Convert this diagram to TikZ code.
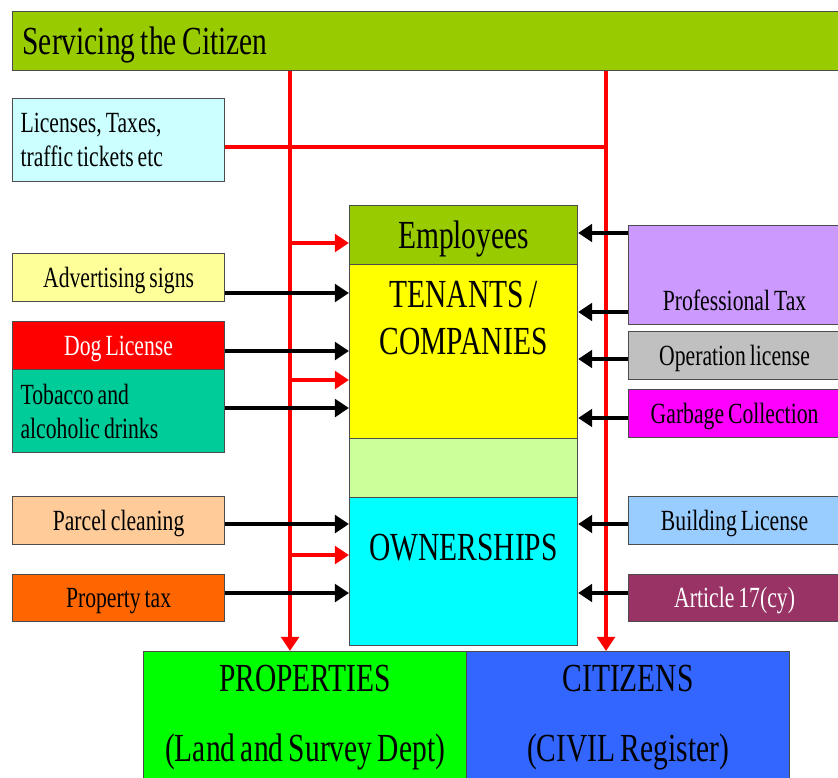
\documentclass[tikz,border=0pt]{standalone}
\usepackage{fontspec}
\setmainfont[FakeStretch=0.74, WordSpace=0.74]{Liberation Serif}
\usetikzlibrary{arrows.meta}

\definecolor{headgreen}{HTML}{99CC00}
\definecolor{licblue}{HTML}{CCFFFF}
\definecolor{advyellow}{HTML}{FFFF99}
\definecolor{dogred}{HTML}{FF0000}
\definecolor{tobgreen}{HTML}{00CC99}
\definecolor{parcelorange}{HTML}{FFCC99}
\definecolor{taxorange}{HTML}{FF6600}
\definecolor{proflilac}{HTML}{CC99FF}
\definecolor{opgrey}{HTML}{C0C0C0}
\definecolor{garbmagenta}{HTML}{FF00FF}
\definecolor{buildblue}{HTML}{99CCFF}
\definecolor{artplum}{HTML}{993366}
\definecolor{tenyellow}{HTML}{FFFF00}
\definecolor{palegreen}{HTML}{CCFF99}
\definecolor{owncyan}{HTML}{00FFFF}
\definecolor{propgreen}{HTML}{00FF00}
\definecolor{citzblue}{HTML}{3366FF}

\newcommand{\boxfont}{\fontsize{25pt}{29pt}\selectfont}
\newcommand{\headfont}{\fontsize{34pt}{40pt}\selectfont}

\tikzset{
	box/.style = {draw = black!70, line width = 1pt, inner sep = 0pt, anchor = north west},
	side/.style = {box, font = \boxfont, minimum width = 6.36cm, text height = 16.5pt, text depth = 0pt},
	sidetwo/.style = {box, font = \boxfont, minimum width = 6.36cm, text width = 5.88cm, align = flush left},
	core/.style = {box, font = \headfont, minimum width = 6.84cm},
	register/.style = {box, font = \headfont, minimum width = 9.69cm, minimum height = 3.96cm, align = center},
	feed/.style = {line width = 2.9pt, -{Triangle[length = 12pt, width = 15pt]}},
	redfeed/.style = {feed, red},
	redline/.style = {line width = 2.9pt, red}
}

\begin{document}
\begin{tikzpicture}[x = 0.03cm, y = -0.03cm]
	\useasboundingbox (0, 0) rectangle (838, 777);
	
	\node[box, fill = headgreen, font = \headfont, minimum width = 25.08cm, minimum height = 1.77cm, text width = 24.48cm, align = flush left, text height = 22.5pt, text depth = 0pt] (title) at (12, 11) {Servicing the Citizen};
	
	\node[sidetwo, fill = licblue, minimum height = 2.49cm] (lic) at (12, 98) {Licenses, Taxes,\\traffic tickets etc};
	\node[side, fill = advyellow, minimum height = 1.44cm] (adv) at (12, 253) {Advertising signs};
	\node[side, fill = dogred, text = white, minimum height = 1.44cm] (dog) at (12, 321) {Dog License};
	\node[sidetwo, fill = tobgreen, minimum height = 2.49cm] (tob) at (12, 369) {Tobacco and\\alcoholic drinks};
	\node[side, fill = parcelorange, minimum height = 1.44cm] (par) at (12, 496) {Parcel cleaning};
	\node[side, fill = taxorange, minimum height = 1.41cm] (ptax) at (12, 574) {Property tax};
	
	\node[core, fill = headgreen, minimum height = 1.77cm, text height = 22.5pt, text depth = 0pt] (emp) at (349, 205) {Employees};
	\node[core, fill = tenyellow, minimum height = 5.22cm] (ten) at (349, 264) {};
	\node[font = \headfont, align = center, anchor = north, inner sep = 0pt, yshift = -14.5pt] (tenlbl) at (ten.north) {TENANTS /\\COMPANIES};
	\node[core, fill = palegreen, minimum height = 1.77cm] (gap) at (349, 438) {};
	\node[core, fill = owncyan, minimum height = 4.44cm, text height = 54pt, text depth = 72.5pt] (own) at (349, 497) {OWNERSHIPS};
	
	\node[side, fill = proflilac, minimum height = 2.97cm, text height = 72pt, text depth = 12pt] (prof) at (628, 225) {Professional Tax};
	\node[side, fill = opgrey, minimum height = 1.44cm] (oper) at (628, 331) {Operation license};
	\node[side, fill = garbmagenta, minimum height = 1.44cm] (garb) at (628, 389) {Garbage Collection};
	\node[side, fill = buildblue, minimum height = 1.44cm] (build) at (628, 496) {Building License};
	\node[side, fill = artplum, text = white, minimum height = 1.41cm] (art) at (628, 574) {Article 17(cy)};
	
	\node[register, fill = propgreen] (prop) at (143, 651) {PROPERTIES\\[0.6em](Land and Survey Dept)};
	\node[register, fill = citzblue] (citz) at (466, 651) {CITIZENS\\[0.6em](CIVIL Register)};
	
	\coordinate (redL) at (290, 0);
	\coordinate (redR) at (606, 0);
	
	\draw[redline] (lic.east |- 0,147) -- (redR |- 0,147);
	\draw[redfeed] (title.south -| redL) -- (prop.north -| redL);
	\draw[redfeed] (title.south -| redR) -- (citz.north -| redR);
	\foreach \dst/\yy in {emp/243, ten/380, own/555}
	\draw[redfeed] (redL |- 0,\yy) -- (\dst.west |- 0,\yy);
	
	\foreach \src/\dst/\yy in {adv/ten/293, dog/ten/351, tob/ten/408, par/own/524, ptax/own/593}
	\draw[feed] (\src.east |- 0,\yy) -- (\dst.west |- 0,\yy);
	\foreach \src/\dst/\yy in {prof/emp/233, prof/ten/312, oper/ten/359, garb/ten/418, build/own/524, art/own/593}
	\draw[feed] (\src.west |- 0,\yy) -- (\dst.east |- 0,\yy);
\end{tikzpicture}
\end{document}
